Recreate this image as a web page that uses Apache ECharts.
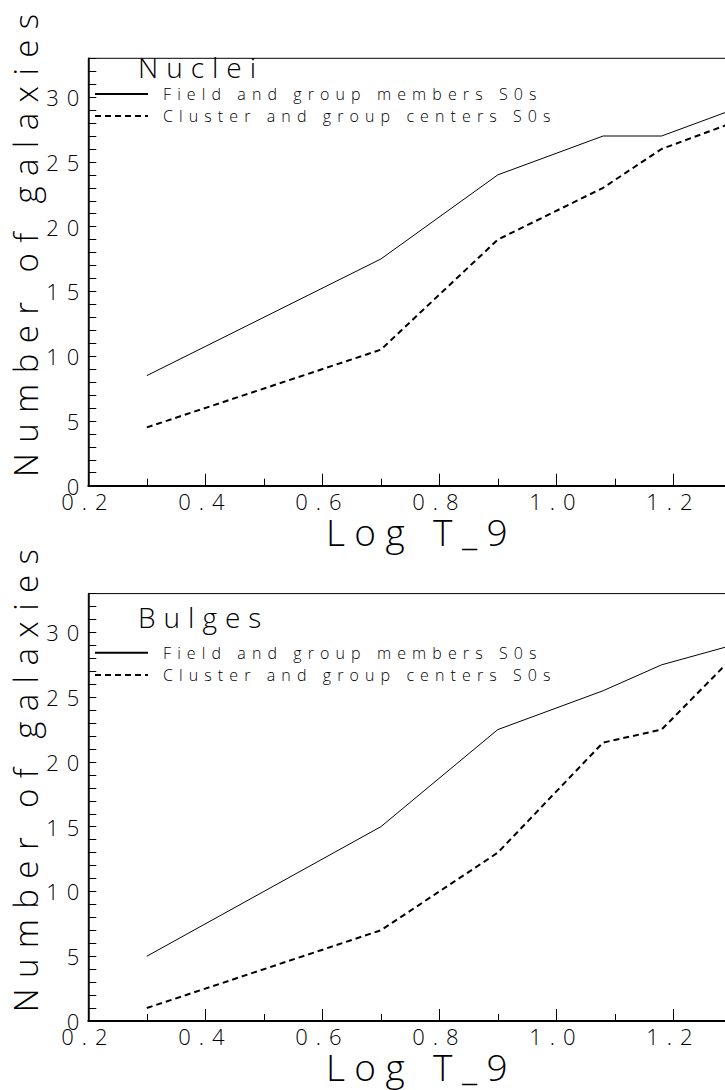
<!DOCTYPE html>
<html>
<head>
<meta charset="utf-8">
<script src="https://cdn.jsdelivr.net/npm/echarts@6/dist/echarts.min.js"></script>
<style>
  html, body { margin: 0; padding: 0; background: #fff; overflow: hidden; }
  #chart { width: 760px; height: 1090px; }
  /* plotter-style wide letter spacing, per text size */
  #chart text { letter-spacing: 8px; }
  #chart text[style*="16px"] { letter-spacing: 6.1px; }
  #chart text[style*="28px"] { letter-spacing: 8px; }
  #chart text[style*="33px"] { letter-spacing: 10.4px; }
  #chart text[style*="37px"] { letter-spacing: 9.4px; }
</style>
</head>
<body>
<div id="chart"></div>
<script>
// log T_9 sample points shared by every curve
const logT = [0.3, 0.7, 0.9, 1.08, 1.18, 1.3];

// cumulative number of galaxies, nuclei
const nucleiField   = [8.5, 17.5, 24, 27, 27, 29];
const nucleiCluster = [4.5, 10.5, 19, 23, 26, 28];

// cumulative number of galaxies, bulges
const bulgeField    = [5, 15, 22.5, 25.5, 27.5, 29];
const bulgeCluster  = [1, 7, 13, 21.5, 22.5, 28];

const panelTitles = ['Nuclei', 'Bulges'];
const seriesNames = ['Field and group members S0s', 'Cluster and group centers S0s'];
const xTitle = 'Log T_9';
const yTitle = 'Number of galaxies';

// axis ranges and tick steps
const xMin = 0.2, xMax = 1.3, xStep = 0.2;
const yMin = 0, yMax = 33, yStep = 1, yLabelStep = 5;

const FAMILY = "'Open Sans'";
const WEIGHT = 300;

const panels = [
  { title: panelTitles[0], field: nucleiField, cluster: nucleiCluster,
    top: 58.3, titleY: 67, legendY: [93, 115] },
  { title: panelTitles[1], field: bulgeField, cluster: bulgeCluster,
    top: 593.6, titleY: 617, legendY: [651.7, 674] }
];

const GRID_LEFT = 88.3, GRID_W = 643.5, GRID_H = 427.4;

const grids = [], xAxes = [], yAxes = [], series = [], legends = [], graphics = [];

panels.forEach((p, i) => {
  grids.push({
    left: GRID_LEFT, top: p.top, width: GRID_W, height: GRID_H,
    show: true, borderColor: '#000', borderWidth: 1, backgroundColor: 'transparent'
  });

  xAxes.push({
    type: 'value', gridIndex: i, min: xMin, max: xMax, interval: xStep,
    axisLine: { show: true, onZero: false, lineStyle: { color: '#000', width: 2 } },
    axisTick: { show: true, inside: true, length: 12, lineStyle: { color: '#000', width: 1 } },
    minorTick: { show: true, splitNumber: 2, length: 7, lineStyle: { color: '#000', width: 1 } },
    splitLine: { show: false },
    axisLabel: {
      margin: 6, color: '#000', fontFamily: FAMILY, fontWeight: WEIGHT, fontSize: 22,
      lineHeight: 18, showMaxLabel: false,
      formatter: v => v.toFixed(1)
    }
  });

  yAxes.push({
    type: 'value', gridIndex: i, min: yMin, max: yMax, interval: yStep,
    axisLine: { show: true, onZero: false, lineStyle: { color: '#000', width: 1.5 } },
    axisTick: { show: true, inside: true, length: 8, lineStyle: { color: '#000', width: 1 } },
    splitLine: { show: false },
    axisLabel: {
      margin: 1, color: '#000', fontFamily: FAMILY, fontWeight: WEIGHT, fontSize: 22,
      lineHeight: 18,
      formatter: v => (Math.round(v) % yLabelStep === 0 ? String(Math.round(v)) : '')
    }
  });

  series.push({
    type: 'line', name: seriesNames[0], xAxisIndex: i, yAxisIndex: i,
    data: logT.map((x, k) => [x, p.field[k]]),
    symbol: 'none', silent: true, animation: false,
    itemStyle: { color: '#000' },
    lineStyle: { color: '#000', width: 1, type: 'solid' }
  });
  series.push({
    type: 'line', name: seriesNames[1], xAxisIndex: i, yAxisIndex: i,
    data: logT.map((x, k) => [x, p.cluster[k]]),
    symbol: 'none', silent: true, animation: false,
    itemStyle: { color: '#000' },
    lineStyle: { color: '#000', width: 2, type: [6, 4] }
  });

  seriesNames.forEach((name, r) => {
    legends.push({
      data: [name], left: 94, top: p.legendY[r] - 7, padding: 0,
      itemWidth: 53, itemHeight: 14, selectedMode: false,
      // legend key shows only the line sample
      itemStyle: { color: 'rgba(0,0,0,0)', borderColor: 'rgba(0,0,0,0)', borderWidth: 0 },
      textStyle: {
        color: '#000', fontFamily: FAMILY, fontWeight: WEIGHT, fontSize: 16,
        padding: [0, 0, 0, 10]
      }
    });
  });

  const dy = p.top - panels[0].top;

  // panel title
  graphics.push({
    type: 'text', x: 138, y: p.titleY, silent: true,
    style: { text: p.title, font: WEIGHT + ' 28px ' + FAMILY, fill: '#000', lineHeight: 24,
             textAlign: 'left', textVerticalAlign: 'middle', verticalAlign: 'middle' }
  });
  // x axis title
  graphics.push({
    type: 'text', x: 326, y: 531 + dy, silent: true,
    style: { text: xTitle, font: WEIGHT + ' 37px ' + FAMILY, fill: '#000', lineHeight: 30,
             textAlign: 'left', textVerticalAlign: 'middle', verticalAlign: 'middle' }
  });
  // y axis title, reading upwards
  graphics.push({
    type: 'text', x: 25, y: 477 + dy, rotation: Math.PI / 2, silent: true,
    style: { text: yTitle, font: WEIGHT + ' 33px ' + FAMILY, fill: '#000', lineHeight: 28,
             textAlign: 'left', textVerticalAlign: 'middle', verticalAlign: 'middle' }
  });
});

const chart = echarts.init(document.getElementById('chart'), null, { renderer: 'svg' });
chart.setOption({
  animation: false,
  backgroundColor: '#fff',
  grid: grids,
  xAxis: xAxes,
  yAxis: yAxes,
  legend: legends,
  series: series,
  graphic: graphics
});
</script>
</body>
</html>
